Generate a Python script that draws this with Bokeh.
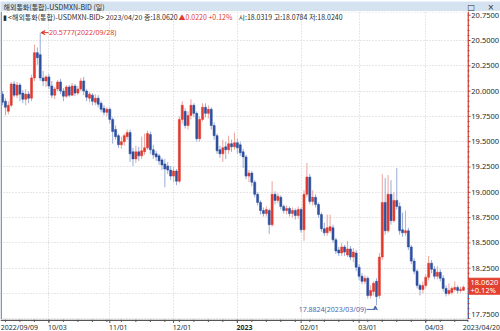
import numpy as np
import pandas as pd
from bokeh.plotting import figure
from bokeh.layouts import column, row
from bokeh.models import (ColumnDataSource, Range1d, FixedTicker, Grid, Span, Label, Arrow, VeeHead)
from bokeh.embed import file_html
from bokeh.resources import INLINE
from bokeh.core.properties import value

# ---------------- data ----------------
dates = pd.bdate_range("2022-09-09", "2023-04-20")

opens = [19.97, 19.90, 19.80, 19.86, 20.07, 19.96, 20.06, 19.98, 19.92, 19.97,
         19.93, 20.13, 20.38, 20.36, 20.13, 20.10, 20.14, 20.05, 19.96, 20.02,
         20.09, 20.00, 19.95, 20.04, 19.96, 20.05, 19.98, 20.02, 20.10, 20.00,
         19.93, 19.96, 19.89, 19.93, 19.88, 19.83, 19.79, 19.82, 19.72, 19.62,
         19.56, 19.47, 19.50, 19.55, 19.59, 19.40, 19.33, 19.40, 19.36, 19.40,
         19.44, 19.57, 19.42, 19.38, 19.36, 19.32, 19.28, 19.26, 19.22, 19.16,
         19.21, 19.11, 19.72, 19.80, 19.66, 19.76, 19.86, 19.78, 19.53, 19.72,
         19.84, 19.78, 19.82, 19.66, 19.56, 19.42, 19.38, 19.45, 19.42, 19.48,
         19.45, 19.49, 19.47, 19.40, 19.35, 19.16, 19.19, 19.10, 18.98, 18.90,
         18.82, 18.79, 18.82, 18.68, 18.98, 18.92, 18.95, 18.86, 18.82, 18.84,
         18.79, 18.82, 18.77, 18.83, 18.63, 18.98, 19.15, 18.91, 18.95, 18.88,
         18.78, 18.64, 18.60, 18.62, 18.65, 18.53, 18.43, 18.40, 18.46, 18.38,
         18.44, 18.36, 18.40, 18.26, 18.17, 18.12, 18.15, 17.98, 18.02, 18.12,
         17.98, 18.36, 18.90, 18.62, 18.98, 18.72, 18.92, 18.86, 18.63, 18.60,
         18.62, 18.46, 18.32, 18.22, 18.08, 18.04, 18.08, 18.16, 18.30, 18.24,
         18.17, 18.21, 18.15, 18.05, 18.00, 18.01, 18.04, 18.06, 18.03, 18.0319]

highs = [20.00, 19.93, 19.90, 20.09, 20.10, 20.09, 20.08, 20.01, 20.02, 20.00,
         20.16, 20.46, 20.43, 20.5777, 20.20, 20.16, 20.17, 20.10, 20.04, 20.11,
         20.12, 20.03, 20.06, 20.06, 20.08, 20.07, 20.05, 20.13, 20.14, 20.02,
         19.99, 19.98, 19.97, 19.96, 19.90, 19.86, 19.84, 19.84, 19.74, 19.66,
         19.58, 19.55, 19.58, 19.62, 19.62, 19.44, 19.46, 19.45, 19.55, 19.58,
         19.61, 19.60, 19.47, 19.41, 19.38, 19.34, 19.33, 19.30, 19.26, 19.25,
         19.23, 19.75, 19.90, 19.83, 19.80, 19.92, 19.88, 19.80, 19.75, 19.88,
         19.88, 19.86, 19.84, 19.69, 19.58, 19.46, 19.52, 19.50, 19.56, 19.52,
         19.59, 19.53, 19.50, 19.43, 19.37, 19.22, 19.21, 19.12, 19.00, 18.92,
         18.85, 18.86, 18.84, 19.11, 19.01, 18.99, 18.97, 18.88, 18.87, 18.86,
         18.85, 18.84, 18.86, 18.85, 19.02, 19.29, 19.18, 19.02, 18.98, 18.90,
         18.80, 18.70, 18.78, 18.78, 18.68, 18.55, 18.46, 18.50, 18.48, 18.52,
         18.47, 18.45, 18.43, 18.29, 18.20, 18.18, 18.17, 18.08, 18.12, 18.15,
         18.40, 19.18, 19.14, 19.17, 19.12, 19.00, 19.24, 18.90, 18.80, 18.82,
         18.65, 18.48, 18.35, 18.24, 18.10, 18.12, 18.19, 18.37, 18.33, 18.27,
         18.27, 18.24, 18.18, 18.08, 18.10, 18.07, 18.12, 18.08, 18.07, 18.0784]

lows = [19.86, 19.76, 19.77, 19.84, 19.94, 19.93, 19.90, 19.88, 19.86, 19.88,
        19.90, 20.10, 20.26, 20.10, 20.05, 20.04, 20.02, 19.93, 19.92, 20.00,
        19.97, 19.90, 19.93, 19.94, 19.95, 19.95, 19.96, 20.00, 19.96, 19.90,
        19.89, 19.86, 19.86, 19.84, 19.79, 19.76, 19.75, 19.68, 19.48, 19.52,
        19.44, 19.43, 19.46, 19.52, 19.30, 19.26, 19.29, 19.31, 19.33, 19.37,
        19.42, 19.38, 19.33, 19.31, 19.27, 19.22, 19.05, 19.18, 19.12, 19.10,
        19.07, 19.09, 19.68, 19.63, 19.62, 19.72, 19.74, 19.50, 19.50, 19.70,
        19.74, 19.73, 19.62, 19.52, 19.38, 19.34, 19.30, 19.33, 19.38, 19.40,
        19.42, 19.38, 19.36, 19.24, 19.13, 19.10, 19.06, 18.95, 18.87, 18.78,
        18.76, 18.76, 18.59, 18.66, 18.88, 18.89, 18.83, 18.79, 18.78, 18.76,
        18.75, 18.73, 18.74, 18.60, 18.52, 18.95, 18.88, 18.87, 18.85, 18.75,
        18.61, 18.57, 18.57, 18.60, 18.50, 18.39, 18.37, 18.37, 18.37, 18.36,
        18.33, 18.31, 18.22, 18.13, 18.09, 18.09, 17.95, 17.95, 17.98, 17.8824,
        17.95, 18.33, 18.58, 18.60, 18.68, 18.70, 18.83, 18.58, 18.56, 18.57,
        18.43, 18.29, 18.19, 18.05, 17.98, 18.00, 18.05, 18.13, 18.20, 18.14,
        18.14, 18.12, 18.02, 17.97, 17.98, 17.99, 18.02, 18.00, 18.01, 18.0240]

closes = [19.89, 19.84, 19.86, 20.07, 19.96, 20.06, 19.97, 19.92, 19.97, 19.93,
          20.13, 20.38, 20.33, 20.13, 20.10, 20.14, 20.05, 19.96, 20.02, 20.09,
          20.00, 19.95, 20.04, 19.96, 20.05, 19.98, 20.02, 20.10, 20.00, 19.94,
          19.97, 19.90, 19.93, 19.87, 19.82, 19.79, 19.82, 19.72, 19.60, 19.55,
          19.47, 19.50, 19.56, 19.59, 19.38, 19.33, 19.40, 19.36, 19.41, 19.44,
          19.58, 19.42, 19.37, 19.35, 19.31, 19.27, 19.23, 19.22, 19.16, 19.21,
          19.11, 19.72, 19.86, 19.66, 19.76, 19.86, 19.78, 19.53, 19.72, 19.84,
          19.78, 19.82, 19.66, 19.56, 19.41, 19.38, 19.44, 19.42, 19.48, 19.45,
          19.49, 19.44, 19.39, 19.35, 19.16, 19.19, 19.10, 18.98, 18.90, 18.82,
          18.79, 18.83, 18.68, 18.98, 18.92, 18.96, 18.86, 18.82, 18.84, 18.79,
          18.82, 18.77, 18.83, 18.63, 18.98, 19.15, 18.91, 18.95, 18.88, 18.78,
          18.64, 18.60, 18.65, 18.66, 18.53, 18.42, 18.40, 18.46, 18.41, 18.44,
          18.36, 18.41, 18.26, 18.17, 18.12, 18.15, 17.98, 18.03, 18.10, 17.97,
          18.36, 18.90, 18.62, 18.98, 18.72, 18.92, 18.86, 18.62, 18.60, 18.62,
          18.46, 18.32, 18.22, 18.08, 18.04, 18.08, 18.16, 18.30, 18.24, 18.17,
          18.21, 18.15, 18.05, 18.00, 18.03, 18.05, 18.06, 18.03, 18.04, 18.0620]

y_ticks = [17.75, 18.0, 18.25, 18.5, 18.75, 19.0, 19.25, 19.5, 19.75, 20.0, 20.25, 20.5, 20.75]
first_label = "2022/09/09"
last_label = "2023/04/20"
title_text = "해외통화(통합)-USDMXN-BID (일)"
info_dark1 = "▮ <해외통화(통합)-USDMXN-BID> 2023/04/20 종:18.0620"
info_red = "▲0.0220 +0.12%"
info_dark2 = "시:18.0319 고:18.0784 저:18.0240"
peak_text = "20.5777(2022/09/28)"
peak_value, peak_idx = 20.5777, 13
trough_text = "17.8824(2023/03/09)"
trough_value, trough_idx = 17.8824, 129
last_price, last_change_pct = 18.0620, "+0.12%"

# ---------------- derived ----------------
n = len(closes)
idx = list(range(n))
month_idx = [i for i in range(1, n) if dates[i].month != dates[i - 1].month]
month_lab = [str(dates[i].year) if dates[i].month == 1 else dates[i].strftime("%m/%d") for i in month_idx]
monday_idx = [i for i in range(n) if dates[i].weekday() == 0]

RED, BLUE = "#E0392D", "#2D4F9E"
RED_W, BLUE_W = "#EBA39D", "#98ACD8"
AX_RED = "#C8372D"
GRID = "#CFCFCF"
TXT = "#2A2A2A"
up = [c >= o for o, c in zip(opens, closes)]
src = ColumnDataSource(dict(
    x=idx, o=opens, h=highs, l=lows, c=closes,
    top=[max(o, c) for o, c in zip(opens, closes)],
    bot=[min(o, c) for o, c in zip(opens, closes)],
    col=[RED if u else BLUE for u in up],
    wcol=[RED_W if u else BLUE_W for u in up],
))

NUM_FONT = "Noto Sans"
KR_FONT = "Noto Sans CJK KR"

W_TOTAL = 500
W_MAIN, H_MAIN, W_RIGHT, H_BOT, H_HDR = 467, 308, 33, 12, 11
x_range = Range1d(-0.7, 160.4)
y_range = Range1d(17.743, 20.7866)
unit = (y_range.end - y_range.start) / H_MAIN            # price per pixel
xunit = (x_range.end - x_range.start) / W_MAIN           # index per pixel


def bare(width, height, xr, yr, bg="white"):
    f = figure(width=width, height=height, x_range=xr, y_range=yr, output_backend="svg",
               toolbar_location=None, x_axis_type=None, y_axis_type=None, min_border=0,
               background_fill_color=bg, border_fill_color=bg, outline_line_color=None)
    f.grid.visible = False
    return f


# ---------------- header bar ----------------
hdr = bare(W_TOTAL, H_HDR, Range1d(0, W_TOTAL), Range1d(0, H_HDR), bg="#D5E3F1")
hdr.text(x=[3], y=[5.5], text=[title_text], text_font=value(KR_FONT), text_font_size="7px",
         text_color=TXT, text_baseline="middle")
hdr.text(x=[467, 487], y=[5.5, 5.5], text=["□", "×"], text_font=value("DejaVu Sans"),
         text_font_size="8px", text_color=TXT, text_baseline="middle")

# ---------------- main chart ----------------
p = bare(W_MAIN, H_MAIN, x_range, y_range)
p.add_layout(Grid(dimension=1, ticker=FixedTicker(ticks=y_ticks[:-1]), grid_line_color=GRID,
                  grid_line_dash="1 2"))
p.add_layout(Grid(dimension=0, ticker=FixedTicker(ticks=month_idx), grid_line_color=GRID,
                  grid_line_dash="1 2"))
p.add_layout(Span(location=y_range.end - 0.5 * unit, dimension="width", line_color=GRID, line_dash="1 2"))
p.add_layout(Span(location=x_range.start + 0.25, dimension="height", line_color="#8193B6", line_width=1.5))

p.segment(x0="x", y0="l", x1="x", y1="h", color="wcol", line_width=1, source=src)
p.vbar(x="x", width=0.72, top="top", bottom="bot", fill_color="col", line_color="col",
       line_width=0.5, source=src)

for txt, xx, colr in [(info_dark1, 2, TXT), (info_red, 178, RED), (info_dark2, 238, TXT)]:
    p.add_layout(Label(x=xx, y=H_MAIN - 5, text=txt, text_font=KR_FONT, text_font_size="7px",
                       text_color=colr, text_baseline="middle", x_units="screen", y_units="screen"))

# peak annotation
p.add_layout(Arrow(end=VeeHead(size=4, line_color=RED, line_width=1, fill_color=RED),
                   x_start=peak_idx + 2.9, y_start=peak_value, x_end=peak_idx + 0.25, y_end=peak_value,
                   line_color=RED, line_width=1))
p.add_layout(Label(x=peak_idx + 3.0, y=peak_value, text=peak_text, text_font=NUM_FONT,
                   text_font_size="7px", text_color=RED, text_baseline="middle"))

# trough annotation
TB = "#4A68AE"
ty = trough_value - 4 * unit
p.segment(x0=[trough_idx - 3.4], y0=[ty], x1=[trough_idx - 0.4], y1=[ty], line_color=TB, line_width=1)
p.add_layout(Arrow(end=VeeHead(size=4, line_color=TB, line_width=1, fill_color=TB),
                   x_start=trough_idx - 0.4, y_start=ty, x_end=trough_idx - 0.4, y_end=trough_value - 0.5 * unit,
                   line_color=TB, line_width=1))
p.add_layout(Label(x=trough_idx - 3.6, y=ty, text=trough_text, text_font=NUM_FONT,
                   text_font_size="7px", text_color=TB, text_baseline="middle", text_align="right"))

# ---------------- right price axis strip ----------------
rgt = bare(W_RIGHT, H_MAIN, Range1d(0, W_RIGHT), y_range)
rgt.segment(x0=[0.6], y0=[last_price], x1=[0.6], y1=[y_range.end], line_color=AX_RED, line_width=1.5)
rgt.segment(x0=[0.6], y0=[y_range.start], x1=[0.6], y1=[last_price], line_color=BLUE, line_width=1.5)
minor_ticks = [t for t in np.round(np.arange(17.75, 20.80, 0.05), 2) if t not in y_ticks]
rgt.segment(x0=[0] * len(y_ticks), y0=y_ticks, x1=[3] * len(y_ticks), y1=y_ticks, line_color=AX_RED)
rgt.segment(x0=[0] * len(minor_ticks), y0=minor_ticks, x1=[2] * len(minor_ticks), y1=minor_ticks,
            line_color=AX_RED)
tag_top, tag_bot = last_price + 9 * unit, last_price - 7 * unit
shown = [t for t in y_ticks if not (tag_bot - 4 * unit < t < tag_top + 4 * unit)]
label_y = [max(t, y_range.start + 5 * unit) for t in shown]
rgt.text(x=[3.8] * len(shown), y=label_y, text=[f"{t:.4f}" for t in shown], text_font=value(NUM_FONT),
         text_font_size="7.5px", text_color=TXT, text_baseline="middle")
rgt.quad(left=[1.5], right=[W_RIGHT], bottom=[tag_bot], top=[tag_top], fill_color="#E2412F",
         line_color="#E2412F")
rgt.text(x=[3, 3], y=[last_price + 4.5 * unit, last_price - 3 * unit],
         text=[f"{last_price:.4f}", last_change_pct], text_font=value(NUM_FONT), text_font_size="7.5px",
         text_color="white", text_baseline="middle")

# ---------------- bottom time axis strip (full width, same index scale) ----------------
bx_range = Range1d(x_range.start, x_range.start + W_TOTAL * xunit)
bot = bare(W_TOTAL, H_BOT, bx_range, Range1d(0, H_BOT))
bot.segment(x0=[x_range.start], y0=[H_BOT - 0.8], x1=[x_range.end], y1=[H_BOT - 0.8],
            line_color="#555555", line_width=1.5)
bot.segment(x0=[x_range.end + 0.2 * xunit], y0=[H_BOT], x1=[x_range.end + 0.2 * xunit], y1=[H_BOT - 2],
            line_color=BLUE, line_width=1.5)
bot.segment(x0=month_idx, y0=[H_BOT] * len(month_idx), x1=month_idx, y1=[H_BOT - 3.5] * len(month_idx),
            line_color="#555555", line_width=1)
bot.segment(x0=monday_idx, y0=[H_BOT] * len(monday_idx), x1=monday_idx, y1=[H_BOT - 2.5] * len(monday_idx),
            line_color="#555555", line_width=1)
lab_x = [x_range.start + 0.1] + [i - 0.3 for i in month_idx]
lab_t = [first_label] + month_lab
lab_style = ["bold" if t.isdigit() else "normal" for t in lab_t]
bot.text(x=lab_x, y=[4.5] * len(lab_x), text=lab_t, text_font=value(NUM_FONT), text_font_size="7px",
         text_font_style=lab_style, text_color=TXT, text_baseline="middle")
bot.text(x=[bx_range.end - 0.5 * xunit], y=[4.5], text=[last_label], text_font=value(NUM_FONT),
         text_font_size="7px", text_color=TXT, text_baseline="middle", text_align="right")

layout = column(hdr, row(p, rgt, spacing=0), bot, spacing=0)
open("out.html", "w").write(file_html(layout, INLINE))
